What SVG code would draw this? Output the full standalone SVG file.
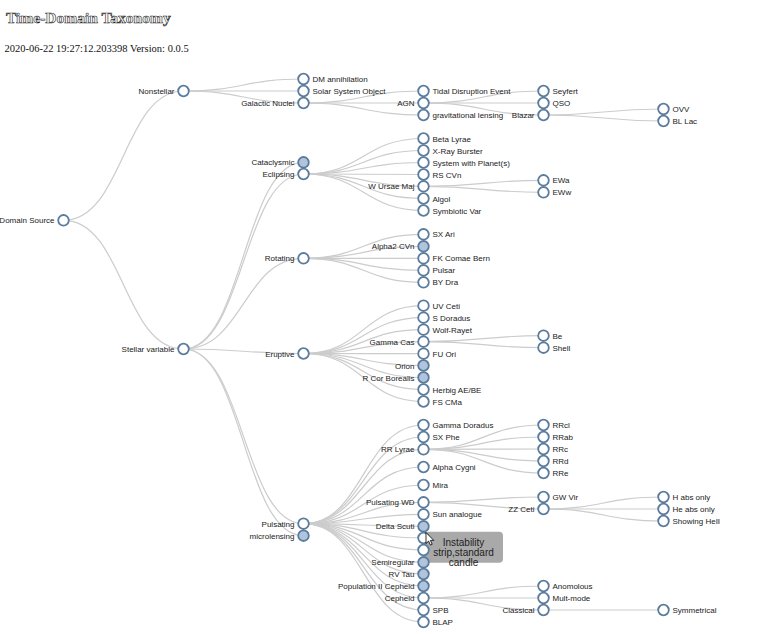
<svg xmlns="http://www.w3.org/2000/svg" width="762" height="634" viewBox="0 0 762 634">
<style>
.link{fill:none;stroke:#ccc;stroke-width:1.2}
.node circle{fill:#fff;stroke:#5b7c9d;stroke-width:1.8}
.node.c circle{fill:#b0c4de}
.node text{font-family:"Liberation Sans",Arial,sans-serif;font-size:8px;fill:#222}
.node.r text{text-anchor:start}
.node.l text{text-anchor:end}
.title{font-family:"Liberation Serif","Times New Roman",serif;font-size:15.5px;font-weight:bold;fill:#fff;stroke:#222;stroke-width:0.6}
.sub{font-family:"Liberation Serif","Times New Roman",serif;font-size:10.5px;fill:#111}
.tip text{font-family:"Liberation Sans",Arial,sans-serif;font-size:10px;fill:#222;text-anchor:middle}
</style>
<rect x="0" y="0" width="762" height="634" fill="#fff"/>
<text class="title" x="6" y="23">Time-Domain Taxonomy</text>
<text class="sub" x="4.5" y="51.5">2020-06-22 19:27:12.203398 Version: 0.0.5</text>
<g id="links">
<path class="link" d="M63.5,220.3C123.5,220.3 123.5,91 183.5,91"/>
<path class="link" d="M63.5,220.3C123.5,220.3 123.5,349 183.5,349"/>
<path class="link" d="M183.5,91C243.5,91 243.5,79 303.5,79"/>
<path class="link" d="M183.5,91C243.5,91 243.5,91 303.5,91"/>
<path class="link" d="M183.5,91C243.5,91 243.5,103 303.5,103"/>
<path class="link" d="M303.5,103C363.5,103 363.5,91 423.5,91"/>
<path class="link" d="M303.5,103C363.5,103 363.5,103 423.5,103"/>
<path class="link" d="M303.5,103C363.5,103 363.5,115 423.5,115"/>
<path class="link" d="M423.5,103C483.5,103 483.5,91 543.5,91"/>
<path class="link" d="M423.5,103C483.5,103 483.5,103 543.5,103"/>
<path class="link" d="M423.5,103C483.5,103 483.5,115 543.5,115"/>
<path class="link" d="M543.5,115C603.5,115 603.5,109 663.5,109"/>
<path class="link" d="M543.5,115C603.5,115 603.5,121 663.5,121"/>
<path class="link" d="M183.5,349C243.5,349 243.5,162.3 303.5,162.3"/>
<path class="link" d="M183.5,349C243.5,349 243.5,174 303.5,174"/>
<path class="link" d="M183.5,349C243.5,349 243.5,258.3 303.5,258.3"/>
<path class="link" d="M183.5,349C243.5,349 243.5,353.5 303.5,353.5"/>
<path class="link" d="M183.5,349C243.5,349 243.5,523.7 303.5,523.7"/>
<path class="link" d="M183.5,349C243.5,349 243.5,535.7 303.5,535.7"/>
<path class="link" d="M303.5,174C363.5,174 363.5,138.5 423.5,138.5"/>
<path class="link" d="M303.5,174C363.5,174 363.5,150.5 423.5,150.5"/>
<path class="link" d="M303.5,174C363.5,174 363.5,162.5 423.5,162.5"/>
<path class="link" d="M303.5,174C363.5,174 363.5,174.5 423.5,174.5"/>
<path class="link" d="M303.5,174C363.5,174 363.5,186.3 423.5,186.3"/>
<path class="link" d="M303.5,174C363.5,174 363.5,198.5 423.5,198.5"/>
<path class="link" d="M303.5,174C363.5,174 363.5,210.5 423.5,210.5"/>
<path class="link" d="M423.5,186.3C483.5,186.3 483.5,180.3 543.5,180.3"/>
<path class="link" d="M423.5,186.3C483.5,186.3 483.5,192.3 543.5,192.3"/>
<path class="link" d="M303.5,258.3C363.5,258.3 363.5,234.3 423.5,234.3"/>
<path class="link" d="M303.5,258.3C363.5,258.3 363.5,246.3 423.5,246.3"/>
<path class="link" d="M303.5,258.3C363.5,258.3 363.5,258.3 423.5,258.3"/>
<path class="link" d="M303.5,258.3C363.5,258.3 363.5,270.3 423.5,270.3"/>
<path class="link" d="M303.5,258.3C363.5,258.3 363.5,282.3 423.5,282.3"/>
<path class="link" d="M303.5,353.5C363.5,353.5 363.5,305.7 423.5,305.7"/>
<path class="link" d="M303.5,353.5C363.5,353.5 363.5,317.7 423.5,317.7"/>
<path class="link" d="M303.5,353.5C363.5,353.5 363.5,329.7 423.5,329.7"/>
<path class="link" d="M303.5,353.5C363.5,353.5 363.5,341.7 423.5,341.7"/>
<path class="link" d="M303.5,353.5C363.5,353.5 363.5,353.7 423.5,353.7"/>
<path class="link" d="M303.5,353.5C363.5,353.5 363.5,365.5 423.5,365.5"/>
<path class="link" d="M303.5,353.5C363.5,353.5 363.5,377.5 423.5,377.5"/>
<path class="link" d="M303.5,353.5C363.5,353.5 363.5,389.5 423.5,389.5"/>
<path class="link" d="M303.5,353.5C363.5,353.5 363.5,401.5 423.5,401.5"/>
<path class="link" d="M423.5,341.7C483.5,341.7 483.5,335.7 543.5,335.7"/>
<path class="link" d="M423.5,341.7C483.5,341.7 483.5,347.7 543.5,347.7"/>
<path class="link" d="M303.5,523.7C363.5,523.7 363.5,425 423.5,425"/>
<path class="link" d="M303.5,523.7C363.5,523.7 363.5,437 423.5,437"/>
<path class="link" d="M303.5,523.7C363.5,523.7 363.5,449.3 423.5,449.3"/>
<path class="link" d="M303.5,523.7C363.5,523.7 363.5,467 423.5,467"/>
<path class="link" d="M303.5,523.7C363.5,523.7 363.5,485 423.5,485"/>
<path class="link" d="M303.5,523.7C363.5,523.7 363.5,502.3 423.5,502.3"/>
<path class="link" d="M303.5,523.7C363.5,523.7 363.5,514.3 423.5,514.3"/>
<path class="link" d="M303.5,523.7C363.5,523.7 363.5,526.3 423.5,526.3"/>
<path class="link" d="M303.5,523.7C363.5,523.7 363.5,538 423.5,538"/>
<path class="link" d="M303.5,523.7C363.5,523.7 363.5,550 423.5,550"/>
<path class="link" d="M303.5,523.7C363.5,523.7 363.5,562.3 423.5,562.3"/>
<path class="link" d="M303.5,523.7C363.5,523.7 363.5,574 423.5,574"/>
<path class="link" d="M303.5,523.7C363.5,523.7 363.5,586 423.5,586"/>
<path class="link" d="M303.5,523.7C363.5,523.7 363.5,598 423.5,598"/>
<path class="link" d="M303.5,523.7C363.5,523.7 363.5,610 423.5,610"/>
<path class="link" d="M303.5,523.7C363.5,523.7 363.5,622 423.5,622"/>
<path class="link" d="M423.5,449.3C483.5,449.3 483.5,425 543.5,425"/>
<path class="link" d="M423.5,449.3C483.5,449.3 483.5,437 543.5,437"/>
<path class="link" d="M423.5,449.3C483.5,449.3 483.5,449 543.5,449"/>
<path class="link" d="M423.5,449.3C483.5,449.3 483.5,461 543.5,461"/>
<path class="link" d="M423.5,449.3C483.5,449.3 483.5,473 543.5,473"/>
<path class="link" d="M423.5,502.3C483.5,502.3 483.5,497 543.5,497"/>
<path class="link" d="M423.5,502.3C483.5,502.3 483.5,509 543.5,509"/>
<path class="link" d="M543.5,509C603.5,509 603.5,497 663.5,497"/>
<path class="link" d="M543.5,509C603.5,509 603.5,509 663.5,509"/>
<path class="link" d="M543.5,509C603.5,509 603.5,521 663.5,521"/>
<path class="link" d="M423.5,598C483.5,598 483.5,586 543.5,586"/>
<path class="link" d="M423.5,598C483.5,598 483.5,598 543.5,598"/>
<path class="link" d="M423.5,598C483.5,598 483.5,610 543.5,610"/>
<path class="link" d="M543.5,610C603.5,610 603.5,610 663.5,610"/>
</g>
<g id="tooltip" class="tip">
<rect x="424" y="531.7" width="79" height="31" rx="4" fill="#a9a9a9"/>
<text x="463.5" y="545.5">Instability</text>
<text x="463.5" y="555.5">strip,standard</text>
<text x="463.5" y="565.5">candle</text>
</g>
<g id="nodes">
<g id="n-root" class="node l" transform="translate(63.5,220.3)"><circle r="5.3"/><text x="-9" y="3">Time-Domain Source</text></g>
<g id="n-nonstellar" class="node l" transform="translate(183.5,91)"><circle r="5.3"/><text x="-9" y="3">Nonstellar</text></g>
<g id="n-stellar" class="node l" transform="translate(183.5,349)"><circle r="5.3"/><text x="-9" y="3">Stellar variable</text></g>
<g id="n-dm" class="node r" transform="translate(303.5,79)"><circle r="5.3"/><text x="9" y="3">DM annihilation</text></g>
<g id="n-sso" class="node r" transform="translate(303.5,91)"><circle r="5.3"/><text x="9" y="3">Solar System Object</text></g>
<g id="n-gn" class="node l" transform="translate(303.5,103)"><circle r="5.3"/><text x="-9" y="3">Galactic Nuclei</text></g>
<g id="n-tde" class="node r" transform="translate(423.5,91)"><circle r="5.3"/><text x="9" y="3">Tidal Disruption Event</text></g>
<g id="n-agn" class="node l" transform="translate(423.5,103)"><circle r="5.3"/><text x="-9" y="3">AGN</text></g>
<g id="n-grav" class="node r" transform="translate(423.5,115)"><circle r="5.3"/><text x="9" y="3">gravitational lensing</text></g>
<g id="n-seyfert" class="node r" transform="translate(543.5,91)"><circle r="5.3"/><text x="9" y="3">Seyfert</text></g>
<g id="n-qso" class="node r" transform="translate(543.5,103)"><circle r="5.3"/><text x="9" y="3">QSO</text></g>
<g id="n-blazar" class="node l" transform="translate(543.5,115)"><circle r="5.3"/><text x="-9" y="3">Blazar</text></g>
<g id="n-ovv" class="node r" transform="translate(663.5,109)"><circle r="5.3"/><text x="9" y="3">OVV</text></g>
<g id="n-bllac" class="node r" transform="translate(663.5,121)"><circle r="5.3"/><text x="9" y="3">BL Lac</text></g>
<g id="n-cata" class="node l c" transform="translate(303.5,162.3)"><circle r="5.3"/><text x="-9" y="3">Cataclysmic</text></g>
<g id="n-ecl" class="node l" transform="translate(303.5,174)"><circle r="5.3"/><text x="-9" y="3">Eclipsing</text></g>
<g id="n-rot" class="node l" transform="translate(303.5,258.3)"><circle r="5.3"/><text x="-9" y="3">Rotating</text></g>
<g id="n-erup" class="node l" transform="translate(303.5,353.5)"><circle r="5.3"/><text x="-9" y="3">Eruptive</text></g>
<g id="n-puls" class="node l" transform="translate(303.5,523.7)"><circle r="5.3"/><text x="-9" y="3">Pulsating</text></g>
<g id="n-micro" class="node l c" transform="translate(303.5,535.7)"><circle r="5.3"/><text x="-9" y="3">microlensing</text></g>
<g id="n-beta" class="node r" transform="translate(423.5,138.5)"><circle r="5.3"/><text x="9" y="3">Beta Lyrae</text></g>
<g id="n-xray" class="node r" transform="translate(423.5,150.5)"><circle r="5.3"/><text x="9" y="3">X-Ray Burster</text></g>
<g id="n-sys" class="node r" transform="translate(423.5,162.5)"><circle r="5.3"/><text x="9" y="3">System with Planet(s)</text></g>
<g id="n-rscvn" class="node r" transform="translate(423.5,174.5)"><circle r="5.3"/><text x="9" y="3">RS CVn</text></g>
<g id="n-wuma" class="node l" transform="translate(423.5,186.3)"><circle r="5.3"/><text x="-9" y="3">W Ursae Maj</text></g>
<g id="n-algol" class="node r" transform="translate(423.5,198.5)"><circle r="5.3"/><text x="9" y="3">Algol</text></g>
<g id="n-symb" class="node r" transform="translate(423.5,210.5)"><circle r="5.3"/><text x="9" y="3">Symbiotic Var</text></g>
<g id="n-ewa" class="node r" transform="translate(543.5,180.3)"><circle r="5.3"/><text x="9" y="3">EWa</text></g>
<g id="n-eww" class="node r" transform="translate(543.5,192.3)"><circle r="5.3"/><text x="9" y="3">EWw</text></g>
<g id="n-sxari" class="node r" transform="translate(423.5,234.3)"><circle r="5.3"/><text x="9" y="3">SX Ari</text></g>
<g id="n-alpha2" class="node l c" transform="translate(423.5,246.3)"><circle r="5.3"/><text x="-9" y="3">Alpha2 CVn</text></g>
<g id="n-fk" class="node r" transform="translate(423.5,258.3)"><circle r="5.3"/><text x="9" y="3">FK Comae Bern</text></g>
<g id="n-pulsar" class="node r" transform="translate(423.5,270.3)"><circle r="5.3"/><text x="9" y="3">Pulsar</text></g>
<g id="n-bydra" class="node r" transform="translate(423.5,282.3)"><circle r="5.3"/><text x="9" y="3">BY Dra</text></g>
<g id="n-uvceti" class="node r" transform="translate(423.5,305.7)"><circle r="5.3"/><text x="9" y="3">UV Ceti</text></g>
<g id="n-sdor" class="node r" transform="translate(423.5,317.7)"><circle r="5.3"/><text x="9" y="3">S Doradus</text></g>
<g id="n-wr" class="node r" transform="translate(423.5,329.7)"><circle r="5.3"/><text x="9" y="3">Wolf-Rayet</text></g>
<g id="n-gcas" class="node l" transform="translate(423.5,341.7)"><circle r="5.3"/><text x="-9" y="3">Gamma Cas</text></g>
<g id="n-fuori" class="node r" transform="translate(423.5,353.7)"><circle r="5.3"/><text x="9" y="3">FU Ori</text></g>
<g id="n-orion" class="node l c" transform="translate(423.5,365.5)"><circle r="5.3"/><text x="-9" y="3">Orion</text></g>
<g id="n-rcb" class="node l c" transform="translate(423.5,377.5)"><circle r="5.3"/><text x="-9" y="3">R Cor Borealis</text></g>
<g id="n-herbig" class="node r" transform="translate(423.5,389.5)"><circle r="5.3"/><text x="9" y="3">Herbig AE/BE</text></g>
<g id="n-fscma" class="node r" transform="translate(423.5,401.5)"><circle r="5.3"/><text x="9" y="3">FS CMa</text></g>
<g id="n-be" class="node r" transform="translate(543.5,335.7)"><circle r="5.3"/><text x="9" y="3">Be</text></g>
<g id="n-shell" class="node r" transform="translate(543.5,347.7)"><circle r="5.3"/><text x="9" y="3">Shell</text></g>
<g id="n-gdor" class="node r" transform="translate(423.5,425)"><circle r="5.3"/><text x="9" y="3">Gamma Doradus</text></g>
<g id="n-sxphe" class="node r" transform="translate(423.5,437)"><circle r="5.3"/><text x="9" y="3">SX Phe</text></g>
<g id="n-rrlyr" class="node l" transform="translate(423.5,449.3)"><circle r="5.3"/><text x="-9" y="3">RR Lyrae</text></g>
<g id="n-acyg" class="node r" transform="translate(423.5,467)"><circle r="5.3"/><text x="9" y="3">Alpha Cygni</text></g>
<g id="n-mira" class="node r" transform="translate(423.5,485)"><circle r="5.3"/><text x="9" y="3">Mira</text></g>
<g id="n-pwd" class="node l" transform="translate(423.5,502.3)"><circle r="5.3"/><text x="-9" y="3">Pulsating WD</text></g>
<g id="n-sun" class="node r" transform="translate(423.5,514.3)"><circle r="5.3"/><text x="9" y="3">Sun analogue</text></g>
<g id="n-dsct" class="node l c" transform="translate(423.5,526.3)"><circle r="5.3"/><text x="-9" y="3">Delta Scuti</text></g>
<g id="n-u1" class="node r" transform="translate(423.5,538)"><circle r="5.3"/></g>
<g id="n-u2" class="node r" transform="translate(423.5,550)"><circle r="5.3"/></g>
<g id="n-sr" class="node l c" transform="translate(423.5,562.3)"><circle r="5.3"/><text x="-9" y="3">Semiregular</text></g>
<g id="n-rvtau" class="node l c" transform="translate(423.5,574)"><circle r="5.3"/><text x="-9" y="3">RV Tau</text></g>
<g id="n-pop2" class="node l c" transform="translate(423.5,586)"><circle r="5.3"/><text x="-9" y="3">Population II Cepheid</text></g>
<g id="n-ceph" class="node l" transform="translate(423.5,598)"><circle r="5.3"/><text x="-9" y="3">Cepheid</text></g>
<g id="n-spb" class="node r" transform="translate(423.5,610)"><circle r="5.3"/><text x="9" y="3">SPB</text></g>
<g id="n-blap" class="node r" transform="translate(423.5,622)"><circle r="5.3"/><text x="9" y="3">BLAP</text></g>
<g id="n-rrcl" class="node r" transform="translate(543.5,425)"><circle r="5.3"/><text x="9" y="3">RRcl</text></g>
<g id="n-rrab" class="node r" transform="translate(543.5,437)"><circle r="5.3"/><text x="9" y="3">RRab</text></g>
<g id="n-rrc" class="node r" transform="translate(543.5,449)"><circle r="5.3"/><text x="9" y="3">RRc</text></g>
<g id="n-rrd" class="node r" transform="translate(543.5,461)"><circle r="5.3"/><text x="9" y="3">RRd</text></g>
<g id="n-rre" class="node r" transform="translate(543.5,473)"><circle r="5.3"/><text x="9" y="3">RRe</text></g>
<g id="n-gwvir" class="node r" transform="translate(543.5,497)"><circle r="5.3"/><text x="9" y="3">GW Vir</text></g>
<g id="n-zzceti" class="node l" transform="translate(543.5,509)"><circle r="5.3"/><text x="-9" y="3">ZZ Ceti</text></g>
<g id="n-habs" class="node r" transform="translate(663.5,497)"><circle r="5.3"/><text x="9" y="3">H abs only</text></g>
<g id="n-heabs" class="node r" transform="translate(663.5,509)"><circle r="5.3"/><text x="9" y="3">He abs only</text></g>
<g id="n-heii" class="node r" transform="translate(663.5,521)"><circle r="5.3"/><text x="9" y="3">Showing HeII</text></g>
<g id="n-anom" class="node r" transform="translate(543.5,586)"><circle r="5.3"/><text x="9" y="3">Anomolous</text></g>
<g id="n-mult" class="node r" transform="translate(543.5,598)"><circle r="5.3"/><text x="9" y="3">Mult-mode</text></g>
<g id="n-classical" class="node l" transform="translate(543.5,610)"><circle r="5.3"/><text x="-9" y="3">Classical</text></g>
<g id="n-sym" class="node r" transform="translate(663.5,610)"><circle r="5.3"/><text x="9" y="3">Symmetrical</text></g>
</g>
<g id="cursor" transform="translate(426,532.5)">
<polygon points="0,0 0,11 2.6,8.6 4.4,12.6 6.2,11.8 4.4,7.9 7.8,7.9" fill="#fff" stroke="#000" stroke-width="0.8" stroke-linejoin="round"/>
</g>
</svg>
